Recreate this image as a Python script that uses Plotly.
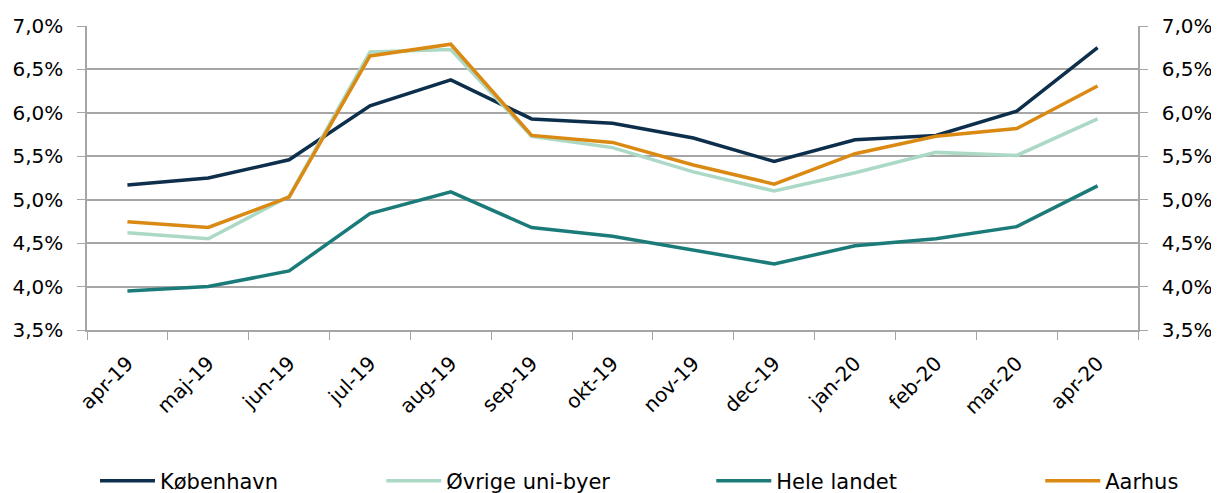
import plotly.graph_objects as go

months = ["apr-19", "maj-19", "jun-19", "jul-19", "aug-19", "sep-19", "okt-19",
          "nov-19", "dec-19", "jan-20", "feb-20", "mar-20", "apr-20"]
koebenhavn = [5.17, 5.25, 5.46, 6.08, 6.38, 5.93, 5.88, 5.71, 5.44, 5.69, 5.74, 6.02, 6.75]
oevrige = [4.62, 4.55, 5.04, 6.70, 6.73, 5.73, 5.60, 5.32, 5.10, 5.31, 5.545, 5.51, 5.93]
hele_landet = [3.95, 4.00, 4.18, 4.84, 5.09, 4.68, 4.58, 4.42, 4.26, 4.47, 4.55, 4.69, 5.16]
aarhus = [4.745, 4.68, 5.03, 6.655, 6.79, 5.74, 5.66, 5.40, 5.18, 5.53, 5.73, 5.82, 6.31]

series = [
    ("København", koebenhavn, "#0d2f4b", "legend"),
    ("Øvrige uni-byer", oevrige, "#acd9c6", "legend2"),
    ("Hele landet", hele_landet, "#1b7b78", "legend3"),
    ("Aarhus", aarhus, "#da8a12", "legend4"),
]

FONT = "DejaVu Sans"
fig = go.Figure()
for name, vals, color, lg in series:
    fig.add_trace(go.Scatter(x=months, y=vals, name=name, mode="lines",
                             line=dict(color=color, width=3.5),
                             legend=lg))
# invisible trace for right-hand axis
fig.add_trace(go.Scatter(x=months, y=koebenhavn, yaxis="y2", mode="lines",
                         line=dict(width=0), opacity=0, showlegend=False,
                         hoverinfo="skip"))

grid = "#a6a6a6"
yaxis_common = dict(range=[3.5, 7.0], dtick=0.5, tick0=3.5, tickformat=".1f",
                    ticksuffix="%", ticks="outside", ticklen=8, tickcolor=grid,
                    showline=True, linecolor=grid, linewidth=1.5, automargin=False,
                    ticklabelstandoff=10,
                    tickfont=dict(family=FONT, size=20, color="#000"))

legend_common = dict(orientation="h", y=-0.497, yanchor="middle", xanchor="left",
                     font=dict(family=FONT, size=21, color="#000"),
                     itemwidth=55,
                     bgcolor="rgba(0,0,0,0)")

# page has an 8px body margin, so the figure is shrunk by 8px and margins adjusted
fig.update_layout(
    width=1211, height=485,
    margin=dict(l=79, r=81, t=18, b=163, autoexpand=False),
    paper_bgcolor="white", plot_bgcolor="white",
    separators=",.",
    xaxis=dict(type="category", range=[-0.5, 12.5], tickson="boundaries",
               ticks="outside", ticklen=8,
               tickcolor=grid, showline=True, linecolor=grid, linewidth=1.5,
               showgrid=False, tickangle=-45, automargin=False,
               ticklabelstandoff=12,
               tickfont=dict(family=FONT, size=20, color="#000")),
    yaxis=dict(**yaxis_common, showgrid=True, gridcolor=grid, gridwidth=1.5),
    yaxis2=dict(**yaxis_common, overlaying="y", side="right", showgrid=False),
    legend=dict(**legend_common, x=0.0076),
    legend2=dict(**legend_common, x=0.28),
    legend3=dict(**legend_common, x=0.594),
    legend4=dict(**legend_common, x=0.907),
    showlegend=True,
)

fig.write_html("out.html")
